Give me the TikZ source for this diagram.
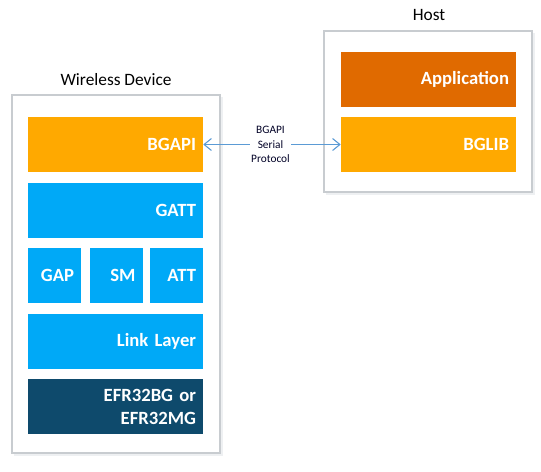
\documentclass[tikz,border=0pt]{standalone}
\usepackage{fontspec}
\setmainfont{Carlito}
\usetikzlibrary{arrows.meta}
\definecolor{borange}{HTML}{FFA900}
\definecolor{aorange}{HTML}{E06A00}
\definecolor{lblue}{HTML}{00A9F7}
\definecolor{dnavy}{HTML}{0E4A6C}
\definecolor{framec}{HTML}{C8CCD0}
\definecolor{shadowc}{HTML}{EEF0F2}
\definecolor{arrowc}{HTML}{5B9BD5}
\tikzset{
  layer/.style n args={3}{rectangle, draw=none, fill=#3, text=white,
    minimum width=#1*0.75pt, minimum height=#2*0.75pt,
    inner xsep=5.25pt, inner ysep=0pt, align=right,
    font=\fontsize{14}{17.25}\selectfont\bfseries},
  frame/.style={draw=framec, fill=white, line width=0.9pt},
  shadowbox/.style={fill=shadowc, draw=none},
  title/.style={font=\fontsize{13}{15}\selectfont, text=black, inner sep=0pt},
  link/.style={draw=arrowc, line width=0.8pt, {Straight Barb[length=5.5pt,width=9pt]}-{Straight Barb[length=5.5pt,width=9pt]}},
  linklabel/.style={fill=white, inner sep=1pt, align=center, text=black!85!blue, font=\fontsize{8.5}{10.9}\selectfont}
}
\begin{document}
\begin{tikzpicture}[x=0.75pt,y=-0.75pt]
\useasboundingbox (0,0) rectangle (541,471);
% frames
\fill[shadowc] (14,97) rectangle (223,456);
\draw[frame] (12,95) rectangle (220,453);
\fill[shadowc] (326,33) rectangle (535,195);
\draw[frame] (324,31) rectangle (532,192);
% titles
\node[title] (wdt) at (116,80) {Wireless Device};
\node[title] (hostt) at (429,15) {Host};
% wireless device stack
\node[layer={175}{55}{borange}, text width=120.75pt] (bgapi) at (115.5,144.5) {BGAPI};
\node[layer={175}{55}{lblue}, text width=120.75pt] (gatt) at (115.5,210.5) {GATT};
\node[layer={53}{55}{lblue}, text width=29.25pt] (gap) at (54.5,275.5) {GAP};
\node[layer={53}{55}{lblue}, text width=29.25pt] (sm) at (116,275.5) {SM};
\node[layer={53}{55}{lblue}, text width=29.25pt] (att) at (176.5,275.5) {ATT};
\node[layer={175}{55}{lblue}, text width=120.75pt] (ll) at (115.5,341.5) {Link Layer};
\node[layer={175}{55}{dnavy}, text width=120.75pt] (efr) at (115.5,406.5) {EFR32BG or\\EFR32MG};
% host stack
\node[layer={175}{55}{aorange}, text width=120.75pt] (app) at (428.5,79.5) {Application};
\node[layer={175}{55}{borange}, text width=120.75pt] (bglib) at (428.5,144.5) {BGLIB};
% link
\draw[link] (bgapi.east) -- (bglib.west);
\node[linklabel] (proto) at (270.5,144.5) {BGAPI\\Serial\\Protocol};
\end{tikzpicture}
\end{document}
